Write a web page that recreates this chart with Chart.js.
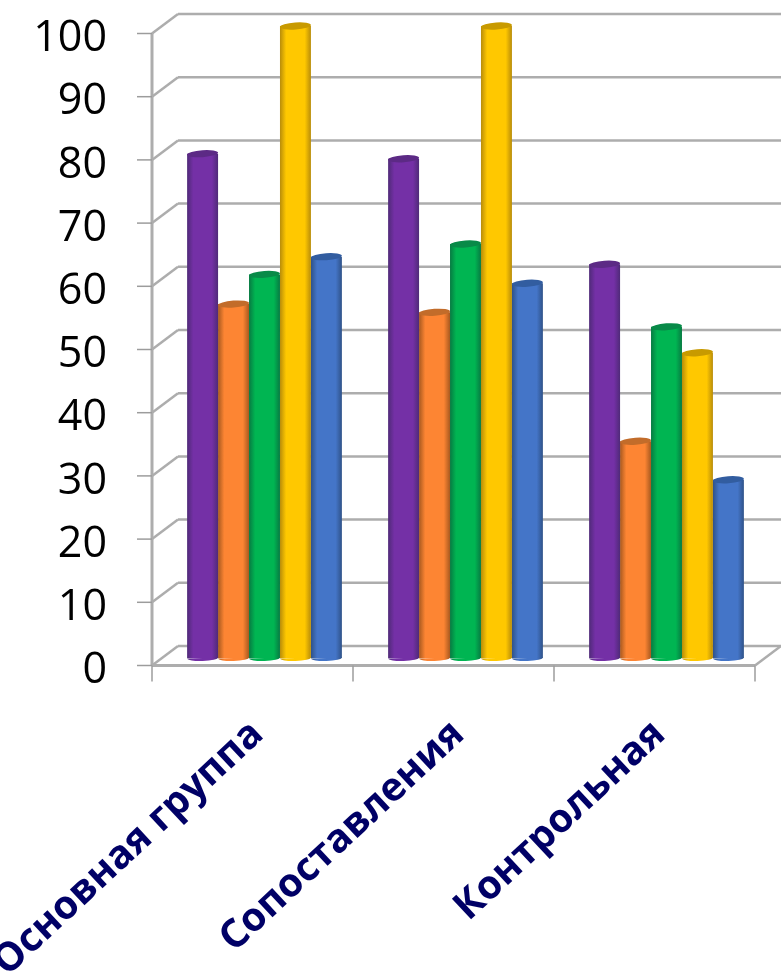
<!DOCTYPE html>
<html>
<head>
<meta charset="utf-8">
<title>Группы</title>
<script src="https://cdn.jsdelivr.net/npm/chart.js@4"></script>
<style>
  html, body { margin: 0; padding: 0; background: #fff; overflow: hidden; }
  canvas { display: block; }
</style>
</head>
<body>
<canvas id="groupsChart" width="781" height="975"></canvas>
<script>
const categories = ['Основная группа', 'Сопоставления', 'Контрольная'];
const yTicks = [0, 10, 20, 30, 40, 50, 60, 70, 80, 90, 100];

const purpleValues = [79.8, 79, 62.3];
const orangeValues = [56, 54.7, 34.3];
const greenValues = [60.7, 65.5, 52.4];
const yellowValues = [100, 100, 48.3];
const blueValues = [63.5, 59.3, 28.2];

// [edge, body, cap] shades for each cylinder
const purpleShades = ['#4f2a78', '#7430a6', '#5c2a85'];
const orangeShades = ['#a8591f', '#fd8533', '#c26c2a'];
const greenShades = ['#077a42', '#00b552', '#088a48'];
const yellowShades = ['#b88c0a', '#ffc800', '#c89a00'];
const blueShades = ['#2f5288', '#4475c8', '#325da0'];

const CATEGORY_PERCENT = 0.77;
const WALL_COLOR = '#adadad';
const TICK_COLOR = '#9c9c9c';

// the bars stand between the front axis and the back wall
const FRONT = { dx: -12, dy: 7.5 };
const BACK = { dx: 14, dy: -12 };

function barBox(chart, dataIndex, datasetIndex) {
    const width = chart.chartArea.width / categories.length * CATEGORY_PERCENT / 5;
    const left = chart.scales.x.getPixelForValue(dataIndex) - width * 2.5 + width * datasetIndex;
    return { left: left, width: width };
}

function cylinderFill(shades) {
    return function(context) {
        const chart = context.chart;
        if (!chart.chartArea || context.dataIndex === undefined) return shades[1];
        const box = barBox(chart, context.dataIndex, context.datasetIndex);
        const gradient = chart.ctx.createLinearGradient(box.left, 0, box.left + box.width, 0);
        gradient.addColorStop(0, shades[0]);
        gradient.addColorStop(0.2, shades[1]);
        gradient.addColorStop(0.8, shades[1]);
        gradient.addColorStop(1, shades[0]);
        return gradient;
    };
}

function makeDataset(values, shades) {
    return {
        data: values,
        shades: shades,
        backgroundColor: cylinderFill(shades),
        borderWidth: 0
    };
}

function line(ctx, x1, y1, x2, y2) {
    ctx.beginPath();
    ctx.moveTo(x1, y1);
    ctx.lineTo(x2, y2);
    ctx.stroke();
}

// 3D box behind the bars: back wall, side wall, floor and axis ticks
const wallsPlugin = {
    id: 'walls',
    beforeDatasetsDraw(chart) {
        const ctx = chart.ctx;
        const area = chart.chartArea;
        const y = chart.scales.y;
        const step = area.width / categories.length;
        const frontLeft = area.left + FRONT.dx;
        const frontRight = area.right + FRONT.dx;
        const backLeft = area.left + BACK.dx;
        const backRight = area.right + BACK.dx;
        ctx.save();
        ctx.strokeStyle = WALL_COLOR;
        ctx.lineWidth = 2.5;
        yTicks.forEach(function(tick) {
            const py = y.getPixelForValue(tick);
            line(ctx, frontLeft, py + FRONT.dy, backLeft, py + BACK.dy);
            line(ctx, backLeft, py + BACK.dy, backRight, py + BACK.dy);
        });
        const floorFront = y.getPixelForValue(0) + FRONT.dy;
        const topFront = y.getPixelForValue(100) + FRONT.dy;
        ctx.lineWidth = 3;
        line(ctx, frontLeft, topFront, frontLeft, floorFront);
        line(ctx, frontLeft, floorFront, frontRight, floorFront);
        ctx.lineWidth = 2.5;
        line(ctx, frontRight, floorFront, backRight, y.getPixelForValue(0) + BACK.dy);
        ctx.strokeStyle = TICK_COLOR;
        ctx.lineWidth = 1.5;
        yTicks.forEach(function(tick) {
            const py = y.getPixelForValue(tick) + FRONT.dy;
            line(ctx, frontLeft - 15, py, frontLeft, py);
        });
        for (let i = 0; i <= categories.length; i++) {
            const px = frontLeft + step * i;
            line(ctx, px, floorFront, px, floorFront + 16);
        }
        ctx.restore();
    }
};

// rounds each bar off with a bottom curve and a darker top cap
const capsPlugin = {
    id: 'caps',
    afterDatasetDraw(chart, args) {
        const ctx = chart.ctx;
        const meta = args.meta;
        const shades = chart.data.datasets[args.index].shades;
        meta.data.forEach(function(bar, i) {
            const box = barBox(chart, i, args.index);
            const rx = box.width / 2;
            const cx = box.left + rx;
            ctx.save();
            ctx.fillStyle = cylinderFill(shades)({ chart: chart, dataIndex: i, datasetIndex: args.index });
            ctx.beginPath();
            ctx.ellipse(cx, bar.base, rx, 3, -0.04, 0, Math.PI);
            ctx.fill();
            ctx.fillStyle = shades[2];
            ctx.beginPath();
            ctx.ellipse(cx, bar.y, rx, 3.5, -0.07, 0, Math.PI * 2);
            ctx.fill();
            ctx.restore();
        });
    }
};

new Chart(document.getElementById('groupsChart').getContext('2d'), {
    type: 'bar',
    data: {
        labels: categories,
        datasets: [
            makeDataset(purpleValues, purpleShades),
            makeDataset(orangeValues, orangeShades),
            makeDataset(greenValues, greenShades),
            makeDataset(yellowValues, yellowShades),
            makeDataset(blueValues, blueShades)
        ]
    },
    options: {
        responsive: false,
        animation: false,
        layout: { padding: { top: 26, right: 14, left: 0, bottom: 0 } },
        categoryPercentage: CATEGORY_PERCENT,
        barPercentage: 1,
        plugins: {
            legend: { display: false },
            title: { display: false },
            tooltip: { enabled: false }
        },
        scales: {
            x: {
                grid: { display: false, drawTicks: false },
                border: { display: false },
                afterFit: function(scale) {
                    // long rotated labels must not push the plot area inwards
                    scale.height = 317;
                    scale.paddingLeft = 0;
                    scale.paddingRight = 0;
                },
                ticks: {
                    autoSkip: false,
                    minRotation: 43,
                    maxRotation: 43,
                    padding: 53,
                    labelOffset: -7,
                    color: '#000066',
                    font: { family: '"Open Sans"', size: 39.5, weight: 'bold' }
                }
            },
            y: {
                min: 0,
                max: 100,
                grid: { display: false, drawTicks: false },
                border: { display: false },
                afterFit: function(scale) {
                    scale.width = 164;
                    scale.paddingTop = 0;
                    scale.paddingBottom = 0;
                },
                afterBuildTicks: function(scale) {
                    scale.ticks = yTicks.map(function(v) { return { value: v }; });
                },
                ticks: {
                    padding: 57,
                    labelOffset: 13,
                    color: '#000000',
                    font: { family: '"Open Sans"', size: 43 }
                }
            }
        }
    },
    plugins: [wallsPlugin, capsPlugin]
});
</script>
</body>
</html>
